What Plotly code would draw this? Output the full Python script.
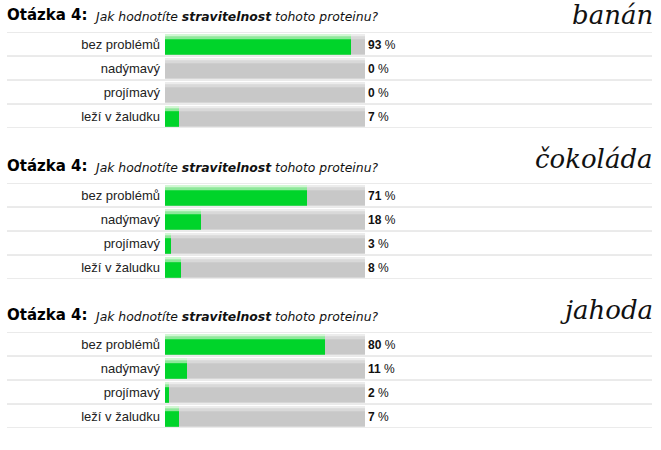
import plotly.graph_objects as go

# data
kategorie = ["bez problémů", "nadýmavý", "projímavý", "leží v žaludku"]
banan = [93, 0, 0, 7]
cokolada = [71, 18, 3, 8]
jahoda = [80, 11, 2, 7]
ovoce = ["banán", "čokoláda", "jahoda"]
otazka = "Otázka 4:"
dotaz = "<i>Jak hodnotíte <b>stravitelnost</b> tohoto proteinu?</i>"

W, H = 661, 450
panel_top = [32, 183, 332]      # px of the first separator line in each block
name_base = [27, 171, 322]      # px baseline of the big product name
row_h = 24

GREEN = "#00d42a"
GREY = "#c8c8c8"


def px_x(px):
    return px / W


def px_y(px):
    return 1 - px / H


fig = go.Figure()
hodnoty = [banan, cokolada, jahoda]

for i, vals in enumerate(hodnoty):
    n = "" if i == 0 else str(i + 1)
    xa, ya = "x" + n, "y" + n
    top = panel_top[i]
    bottom = top + row_h * len(kategorie)

    pct = ["<b>%d</b> %%" % v for v in vals]
    full = [100] * len(vals)
    # grey track + light top edge
    fig.add_trace(go.Bar(x=full, y=kategorie, orientation="h", xaxis=xa, yaxis=ya,
                         marker=dict(color=GREY, line_width=0), width=0.85, offset=-0.4,
                         text=pct, textposition="outside", cliponaxis=False,
                         textfont=dict(family="Liberation Sans", size=12, color="#111"),
                         hoverinfo="skip"))
    fig.add_trace(go.Bar(x=full, y=kategorie, orientation="h", xaxis=xa, yaxis=ya,
                         marker=dict(color="#d9d9d9", line_width=0), width=0.2, offset=-0.4,
                         hoverinfo="skip"))
    fig.add_trace(go.Bar(x=full, y=kategorie, orientation="h", xaxis=xa, yaxis=ya,
                         marker=dict(color="#ececec", line_width=0), width=0.08, offset=-0.4,
                         hoverinfo="skip"))
    # green value bar + light top edge
    fig.add_trace(go.Bar(x=vals, y=kategorie, orientation="h", xaxis=xa, yaxis=ya,
                         marker=dict(color=GREEN, line_width=0), width=0.85, offset=-0.4,
                         hoverinfo="skip"))
    fig.add_trace(go.Bar(x=vals, y=kategorie, orientation="h", xaxis=xa, yaxis=ya,
                         marker=dict(color="#8ee89a", line_width=0), width=0.2, offset=-0.4,
                         hoverinfo="skip"))
    fig.add_trace(go.Bar(x=vals, y=kategorie, orientation="h", xaxis=xa, yaxis=ya,
                         marker=dict(color="#d2f6d4", line_width=0), width=0.08, offset=-0.4,
                         hoverinfo="skip"))

    fig.update_layout(**{
        "xaxis" + n: dict(domain=[px_x(165), px_x(365)], range=[0, 100], visible=False,
                          fixedrange=True, anchor=ya),
        "yaxis" + n: dict(domain=[px_y(bottom), px_y(top)], range=[3.5, -0.5],
                          type="category", categoryorder="array", categoryarray=kategorie,
                          showgrid=False, zeroline=False, showline=False, ticks="",
                          ticklabelstandoff=4, anchor=xa, fixedrange=True,
                          tickfont=dict(family="Liberation Sans", size=13, color="#222")),
    })

    # separator lines
    for k in range(len(kategorie) + 1):
        fig.add_shape(type="line", xref="paper", yref=ya, x0=px_x(7), x1=px_x(652),
                      y0=k - 0.5, y1=k - 0.5, line=dict(color="#d6d6d6", width=1))

    # question heading
    fig.add_annotation(xref="paper", yref="paper", x=px_x(5), y=px_y(top - 6),
                       xanchor="left", yanchor="bottom", showarrow=False,
                       text="<b>" + otazka + "</b>",
                       font=dict(family="DejaVu Sans", size=15, color="#000"))
    fig.add_annotation(xref="paper", yref="paper", x=px_x(91), y=px_y(top - 6),
                       xanchor="left", yanchor="bottom", showarrow=False,
                       text=dotaz,
                       font=dict(family="DejaVu Sans", size=12.4, color="#111"))
    # product name
    fig.add_annotation(xref="paper", yref="paper", x=px_x(655), y=px_y(name_base[i] + 5),
                       xanchor="right", yanchor="bottom", showarrow=False,
                       text="<i>" + ovoce[i] + "</i>",
                       font=dict(family="DejaVu Serif", size=26, color="#111"))

fig.update_layout(width=W, height=H, margin=dict(l=0, r=0, t=0, b=0),
                  barmode="overlay", showlegend=False,
                  paper_bgcolor="white", plot_bgcolor="white")

# drop the browser's default 8px body margin so the figure fills the window
fig.write_html("out.html", config={"displayModeBar": False},
               post_script="document.body.style.margin='0';document.body.style.overflow='hidden';")
